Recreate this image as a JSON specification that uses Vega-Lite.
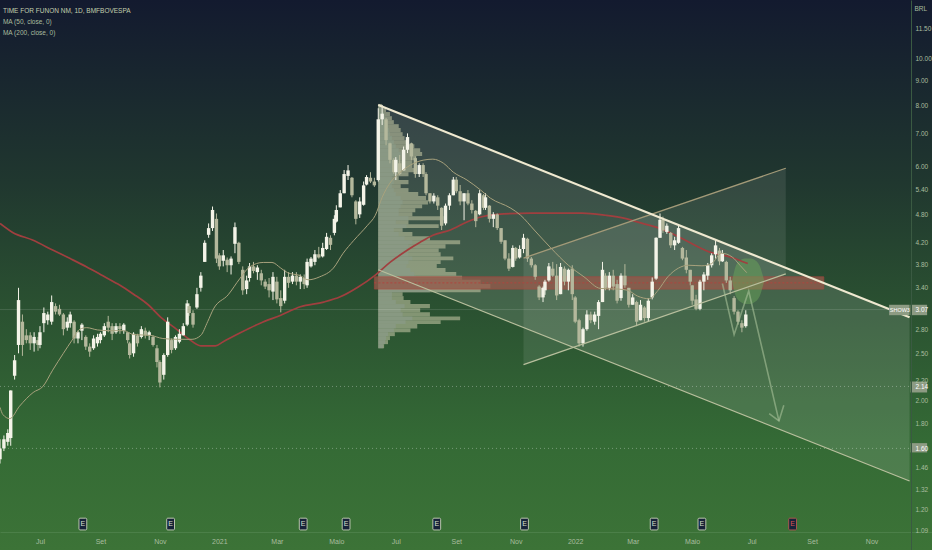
{"$schema":"https://vega.github.io/schema/vega-lite/v6.json","width":932,"height":550,"padding":0,"autosize":{"type":"none"},"background":"#22382f","config":{"view":{"stroke":null},"font":"Liberation Sans","axis":{"grid":false}},
"datasets":{
"ohlc":[
{"d":"2020-05-21","o":1.52,"h":1.67,"l":1.49,"c":1.60},{"d":"2020-05-25","o":1.60,"h":1.70,"l":1.58,"c":1.67},{"d":"2020-05-29","o":1.65,"h":1.75,"l":1.62,"c":1.72},
{"d":"2020-06-01","o":1.68,"h":2.10,"l":1.62,"c":2.10},{"d":"2020-06-05","o":2.25,"h":2.48,"l":2.21,"c":2.42},{"d":"2020-06-09","o":2.60,"h":3.40,"l":2.50,"c":3.21},{"d":"2020-06-13","o":2.90,"h":3.00,"l":2.47,"c":2.60},{"d":"2020-06-17","o":2.72,"h":2.80,"l":2.62,"c":2.66},{"d":"2020-06-21","o":2.72,"h":2.76,"l":2.54,"c":2.62},{"d":"2020-06-25","o":2.62,"h":2.76,"l":2.52,"c":2.70},{"d":"2020-06-29","o":2.66,"h":2.70,"l":2.53,"c":2.60},
{"d":"2020-07-01","o":2.60,"h":2.84,"l":2.56,"c":2.76},{"d":"2020-07-05","o":2.88,"h":3.10,"l":2.76,"c":3.02},{"d":"2020-07-09","o":2.92,"h":3.04,"l":2.86,"c":3.00},{"d":"2020-07-13","o":2.90,"h":3.28,"l":2.86,"c":3.18},{"d":"2020-07-17","o":3.12,"h":3.16,"l":3.00,"c":3.04},{"d":"2020-07-21","o":3.08,"h":3.14,"l":2.98,"c":3.00},{"d":"2020-07-25","o":3.00,"h":3.02,"l":2.72,"c":2.80},{"d":"2020-07-29","o":2.82,"h":2.96,"l":2.78,"c":2.90},
{"d":"2020-08-01","o":2.88,"h":3.04,"l":2.82,"c":3.00},{"d":"2020-08-05","o":2.90,"h":2.92,"l":2.62,"c":2.68},{"d":"2020-08-09","o":2.68,"h":2.78,"l":2.62,"c":2.76},{"d":"2020-08-13","o":2.78,"h":2.88,"l":2.66,"c":2.86},{"d":"2020-08-17","o":2.70,"h":2.72,"l":2.54,"c":2.58},{"d":"2020-08-21","o":2.58,"h":2.62,"l":2.46,"c":2.52},{"d":"2020-08-25","o":2.56,"h":2.72,"l":2.54,"c":2.68},{"d":"2020-08-29","o":2.62,"h":2.74,"l":2.58,"c":2.70},
{"d":"2020-09-01","o":2.66,"h":2.76,"l":2.62,"c":2.74},{"d":"2020-09-05","o":2.72,"h":2.88,"l":2.70,"c":2.84},{"d":"2020-09-09","o":2.90,"h":2.98,"l":2.76,"c":2.82},{"d":"2020-09-13","o":2.84,"h":2.88,"l":2.66,"c":2.74},{"d":"2020-09-17","o":2.76,"h":2.88,"l":2.74,"c":2.84},{"d":"2020-09-21","o":2.84,"h":2.88,"l":2.74,"c":2.80},{"d":"2020-09-25","o":2.78,"h":2.88,"l":2.74,"c":2.86},{"d":"2020-09-29","o":2.76,"h":2.76,"l":2.62,"c":2.66},
{"d":"2020-10-01","o":2.62,"h":2.64,"l":2.44,"c":2.48},{"d":"2020-10-05","o":2.50,"h":2.76,"l":2.46,"c":2.74},{"d":"2020-10-09","o":2.72,"h":2.74,"l":2.58,"c":2.62},{"d":"2020-10-13","o":2.70,"h":2.84,"l":2.68,"c":2.80},{"d":"2020-10-17","o":2.78,"h":2.82,"l":2.68,"c":2.72},{"d":"2020-10-21","o":2.72,"h":2.78,"l":2.66,"c":2.76},{"d":"2020-10-25","o":2.70,"h":2.72,"l":2.58,"c":2.60},{"d":"2020-10-29","o":2.56,"h":2.60,"l":2.34,"c":2.40},
{"d":"2020-11-01","o":2.40,"h":2.42,"l":2.13,"c":2.18},{"d":"2020-11-05","o":2.26,"h":2.50,"l":2.21,"c":2.48},{"d":"2020-11-09","o":2.48,"h":2.96,"l":2.46,"c":2.90},{"d":"2020-11-13","o":2.66,"h":2.68,"l":2.50,"c":2.54},{"d":"2020-11-17","o":2.56,"h":2.72,"l":2.54,"c":2.70},{"d":"2020-11-21","o":2.64,"h":2.80,"l":2.62,"c":2.74},{"d":"2020-11-25","o":2.72,"h":2.88,"l":2.72,"c":2.84},{"d":"2020-11-29","o":2.86,"h":3.21,"l":2.84,"c":3.16},
{"d":"2020-12-01","o":3.12,"h":3.16,"l":2.98,"c":3.02},{"d":"2020-12-05","o":3.02,"h":3.06,"l":2.82,"c":2.86},{"d":"2020-12-09","o":3.10,"h":3.40,"l":3.08,"c":3.30},{"d":"2020-12-13","o":3.40,"h":3.66,"l":3.34,"c":3.60},{"d":"2020-12-17","o":3.84,"h":4.25,"l":3.84,"c":4.20},{"d":"2020-12-21","o":4.36,"h":4.60,"l":4.30,"c":4.50},{"d":"2020-12-25","o":4.50,"h":4.98,"l":4.44,"c":4.90},{"d":"2020-12-29","o":4.70,"h":4.82,"l":3.82,"c":3.90},
{"d":"2021-01-01","o":3.96,"h":4.00,"l":3.70,"c":3.76},{"d":"2021-01-05","o":3.86,"h":4.06,"l":3.76,"c":3.96},{"d":"2021-01-09","o":3.88,"h":3.92,"l":3.66,"c":3.78},{"d":"2021-01-13","o":3.78,"h":3.94,"l":3.62,"c":3.90},{"d":"2021-01-17","o":4.18,"h":4.62,"l":4.00,"c":4.52},{"d":"2021-01-21","o":4.20,"h":4.22,"l":3.80,"c":3.84},{"d":"2021-01-25","o":3.70,"h":3.76,"l":3.29,"c":3.36},{"d":"2021-01-29","o":3.38,"h":3.60,"l":3.30,"c":3.52},
{"d":"2021-02-01","o":3.56,"h":3.82,"l":3.50,"c":3.76},{"d":"2021-02-05","o":3.76,"h":3.84,"l":3.64,"c":3.68},{"d":"2021-02-09","o":3.66,"h":3.78,"l":3.53,"c":3.74},{"d":"2021-02-13","o":3.64,"h":3.70,"l":3.44,"c":3.52},{"d":"2021-02-17","o":3.50,"h":3.54,"l":3.38,"c":3.42},{"d":"2021-02-21","o":3.46,"h":3.56,"l":3.25,"c":3.36},{"d":"2021-02-25","o":3.34,"h":3.66,"l":3.21,"c":3.58},
{"d":"2021-03-01","o":3.50,"h":3.58,"l":3.16,"c":3.22},{"d":"2021-03-05","o":3.24,"h":3.36,"l":3.03,"c":3.12},{"d":"2021-03-09","o":3.20,"h":3.70,"l":3.16,"c":3.58},{"d":"2021-03-13","o":3.58,"h":3.66,"l":3.40,"c":3.48},{"d":"2021-03-17","o":3.50,"h":3.66,"l":3.46,"c":3.60},{"d":"2021-03-21","o":3.60,"h":3.66,"l":3.44,"c":3.50},{"d":"2021-03-25","o":3.50,"h":3.62,"l":3.38,"c":3.58},{"d":"2021-03-29","o":3.56,"h":3.62,"l":3.38,"c":3.46},
{"d":"2021-04-01","o":3.44,"h":3.90,"l":3.40,"c":3.84},{"d":"2021-04-05","o":3.76,"h":3.93,"l":3.74,"c":3.90},{"d":"2021-04-09","o":3.84,"h":4.06,"l":3.78,"c":3.98},{"d":"2021-04-13","o":3.98,"h":4.12,"l":3.90,"c":3.92},{"d":"2021-04-17","o":3.94,"h":4.20,"l":3.92,"c":4.10},{"d":"2021-04-21","o":4.08,"h":4.40,"l":4.06,"c":4.32},{"d":"2021-04-25","o":4.30,"h":4.35,"l":4.06,"c":4.16},{"d":"2021-04-29","o":4.40,"h":4.78,"l":4.35,"c":4.70},
{"d":"2021-05-01","o":4.64,"h":5.01,"l":4.62,"c":4.90},{"d":"2021-05-05","o":4.96,"h":5.38,"l":4.96,"c":5.30},{"d":"2021-05-09","o":5.30,"h":5.91,"l":5.30,"c":5.80},{"d":"2021-05-13","o":5.75,"h":6.05,"l":5.64,"c":5.90},{"d":"2021-05-17","o":5.70,"h":5.72,"l":5.20,"c":5.25},{"d":"2021-05-21","o":5.10,"h":5.13,"l":4.58,"c":4.70},{"d":"2021-05-25","o":4.80,"h":5.20,"l":4.72,"c":5.10},{"d":"2021-05-29","o":5.02,"h":5.60,"l":5.00,"c":5.50},
{"d":"2021-06-01","o":5.52,"h":5.77,"l":5.50,"c":5.72},{"d":"2021-06-05","o":5.70,"h":5.85,"l":5.56,"c":5.60},{"d":"2021-06-09","o":5.60,"h":5.70,"l":5.46,"c":5.50},{"d":"2021-06-13","o":5.64,"h":7.90,"l":5.60,"c":7.50},{"d":"2021-06-17","o":7.50,"h":8.02,"l":7.30,"c":7.70},{"d":"2021-06-21","o":7.50,"h":7.55,"l":6.64,"c":6.80},{"d":"2021-06-25","o":6.70,"h":6.72,"l":6.10,"c":6.20},{"d":"2021-06-29","o":6.20,"h":6.25,"l":5.80,"c":5.85},
{"d":"2021-07-01","o":5.85,"h":6.28,"l":5.64,"c":6.20},{"d":"2021-07-05","o":6.10,"h":6.34,"l":5.77,"c":5.80},{"d":"2021-07-09","o":5.90,"h":6.60,"l":5.90,"c":6.50},{"d":"2021-07-13","o":6.50,"h":7.02,"l":6.40,"c":6.90},{"d":"2021-07-17","o":6.70,"h":6.72,"l":6.19,"c":6.30},{"d":"2021-07-21","o":6.25,"h":6.30,"l":5.70,"c":5.80},{"d":"2021-07-25","o":5.80,"h":6.10,"l":5.72,"c":6.05},{"d":"2021-07-29","o":6.05,"h":6.10,"l":5.72,"c":5.80},
{"d":"2021-08-01","o":5.80,"h":5.85,"l":5.25,"c":5.30},{"d":"2021-08-05","o":5.30,"h":5.30,"l":5.05,"c":5.10},{"d":"2021-08-09","o":5.10,"h":5.30,"l":5.05,"c":5.24},{"d":"2021-08-13","o":5.20,"h":5.25,"l":4.90,"c":5.00},{"d":"2021-08-17","o":4.95,"h":4.96,"l":4.46,"c":4.55},{"d":"2021-08-21","o":4.60,"h":5.05,"l":4.56,"c":5.00},{"d":"2021-08-25","o":5.00,"h":5.30,"l":4.90,"c":5.25},{"d":"2021-08-29","o":5.25,"h":5.72,"l":5.25,"c":5.65},
{"d":"2021-09-01","o":5.65,"h":5.72,"l":5.30,"c":5.35},{"d":"2021-09-05","o":5.35,"h":5.51,"l":5.01,"c":5.10},{"d":"2021-09-09","o":5.10,"h":5.30,"l":4.67,"c":5.30},{"d":"2021-09-13","o":5.30,"h":5.38,"l":5.01,"c":5.05},{"d":"2021-09-17","o":5.05,"h":5.13,"l":4.82,"c":4.90},{"d":"2021-09-21","o":4.88,"h":4.90,"l":4.52,"c":4.65},{"d":"2021-09-25","o":4.80,"h":5.38,"l":4.78,"c":5.30},{"d":"2021-09-29","o":5.25,"h":5.28,"l":4.90,"c":4.95},
{"d":"2021-10-01","o":4.95,"h":5.30,"l":4.90,"c":5.20},{"d":"2021-10-05","o":5.00,"h":5.01,"l":4.62,"c":4.70},{"d":"2021-10-09","o":4.70,"h":4.85,"l":4.52,"c":4.80},{"d":"2021-10-13","o":4.80,"h":4.82,"l":4.46,"c":4.50},{"d":"2021-10-17","o":4.50,"h":4.50,"l":4.18,"c":4.22},{"d":"2021-10-21","o":4.25,"h":4.25,"l":3.87,"c":3.90},{"d":"2021-10-25","o":3.90,"h":4.00,"l":3.68,"c":3.72},{"d":"2021-10-29","o":3.75,"h":4.15,"l":3.74,"c":4.10},
{"d":"2021-11-01","o":4.10,"h":4.12,"l":3.86,"c":3.90},{"d":"2021-11-05","o":3.92,"h":4.15,"l":3.90,"c":4.08},{"d":"2021-11-09","o":4.08,"h":4.38,"l":4.00,"c":4.30},{"d":"2021-11-13","o":4.28,"h":4.30,"l":3.84,"c":3.90},{"d":"2021-11-17","o":3.90,"h":3.93,"l":3.74,"c":3.78},{"d":"2021-11-21","o":3.78,"h":3.80,"l":3.53,"c":3.58},{"d":"2021-11-25","o":3.42,"h":3.44,"l":3.21,"c":3.25},{"d":"2021-11-29","o":3.25,"h":3.42,"l":3.18,"c":3.40},
{"d":"2021-12-01","o":3.36,"h":3.53,"l":3.29,"c":3.50},{"d":"2021-12-05","o":3.52,"h":3.82,"l":3.50,"c":3.76},{"d":"2021-12-09","o":3.72,"h":3.84,"l":3.58,"c":3.60},{"d":"2021-12-13","o":3.60,"h":3.80,"l":3.21,"c":3.28},{"d":"2021-12-17","o":3.30,"h":3.82,"l":3.30,"c":3.75},{"d":"2021-12-21","o":3.72,"h":3.76,"l":3.44,"c":3.50},{"d":"2021-12-25","o":3.50,"h":3.72,"l":3.36,"c":3.70},{"d":"2021-12-29","o":3.72,"h":3.78,"l":3.21,"c":3.30},
{"d":"2022-01-01","o":3.25,"h":3.27,"l":2.88,"c":2.90},{"d":"2022-01-05","o":2.92,"h":2.94,"l":2.58,"c":2.62},{"d":"2022-01-09","o":2.62,"h":2.82,"l":2.58,"c":2.80},{"d":"2022-01-13","o":2.80,"h":3.06,"l":2.78,"c":3.00},{"d":"2022-01-17","o":3.00,"h":3.04,"l":2.88,"c":2.92},{"d":"2022-01-21","o":2.90,"h":3.04,"l":2.86,"c":3.00},{"d":"2022-01-25","o":2.98,"h":3.21,"l":2.80,"c":3.18},{"d":"2022-01-29","o":3.18,"h":3.84,"l":3.18,"c":3.70},
{"d":"2022-02-01","o":3.60,"h":3.64,"l":3.36,"c":3.40},{"d":"2022-02-05","o":3.40,"h":3.66,"l":3.36,"c":3.60},{"d":"2022-02-09","o":3.60,"h":3.70,"l":3.36,"c":3.42},{"d":"2022-02-13","o":3.46,"h":3.53,"l":3.16,"c":3.20},{"d":"2022-02-17","o":3.24,"h":3.64,"l":3.20,"c":3.60},{"d":"2022-02-21","o":3.60,"h":3.80,"l":3.40,"c":3.44},{"d":"2022-02-25","o":3.40,"h":3.40,"l":3.10,"c":3.14},
{"d":"2022-03-01","o":3.14,"h":3.30,"l":3.14,"c":3.25},{"d":"2022-03-05","o":3.18,"h":3.20,"l":2.84,"c":2.90},{"d":"2022-03-09","o":2.92,"h":3.21,"l":2.92,"c":3.14},{"d":"2022-03-13","o":3.10,"h":3.12,"l":2.90,"c":2.95},{"d":"2022-03-17","o":2.95,"h":3.24,"l":2.90,"c":3.20},{"d":"2022-03-21","o":3.25,"h":3.57,"l":3.22,"c":3.50},{"d":"2022-03-25","o":3.55,"h":4.31,"l":3.53,"c":4.30},{"d":"2022-03-29","o":4.30,"h":4.82,"l":4.30,"c":4.68},
{"d":"2022-04-01","o":4.68,"h":4.75,"l":4.40,"c":4.45},{"d":"2022-04-05","o":4.42,"h":4.60,"l":4.38,"c":4.55},{"d":"2022-04-09","o":4.40,"h":4.42,"l":4.10,"c":4.15},{"d":"2022-04-13","o":4.15,"h":4.32,"l":4.06,"c":4.25},{"d":"2022-04-17","o":4.20,"h":4.56,"l":4.18,"c":4.50},{"d":"2022-04-21","o":4.10,"h":4.12,"l":3.87,"c":3.90},{"d":"2022-04-25","o":3.92,"h":4.06,"l":3.64,"c":3.70},{"d":"2022-04-29","o":3.70,"h":3.70,"l":3.44,"c":3.50},
{"d":"2022-05-01","o":3.44,"h":3.44,"l":3.14,"c":3.20},{"d":"2022-05-05","o":3.22,"h":3.29,"l":3.06,"c":3.08},{"d":"2022-05-09","o":3.08,"h":3.53,"l":3.06,"c":3.50},{"d":"2022-05-13","o":3.50,"h":3.66,"l":3.36,"c":3.62},{"d":"2022-05-17","o":3.60,"h":3.82,"l":3.53,"c":3.78},{"d":"2022-05-21","o":3.78,"h":4.00,"l":3.74,"c":3.96},{"d":"2022-05-25","o":3.98,"h":4.25,"l":3.90,"c":4.15},{"d":"2022-05-29","o":4.05,"h":4.10,"l":3.78,"c":3.85},
{"d":"2022-06-01","o":3.85,"h":4.06,"l":3.84,"c":4.00},{"d":"2022-06-05","o":3.84,"h":3.86,"l":3.48,"c":3.52},{"d":"2022-06-09","o":3.52,"h":3.58,"l":3.30,"c":3.36},{"d":"2022-06-13","o":3.24,"h":3.27,"l":3.00,"c":3.04},{"d":"2022-06-17","o":3.04,"h":3.06,"l":2.86,"c":2.90},{"d":"2022-06-21","o":2.88,"h":2.92,"l":2.76,"c":2.82},{"d":"2022-06-25","o":2.84,"h":3.06,"l":2.82,"c":3.00}
],
"ma50":[{"d":"2020-05-21","p":1.94},{"d":"2020-05-24","p":1.875},{"d":"2020-05-31","p":1.84},{"d":"2020-06-10","p":1.95},{"d":"2020-06-24","p":2.08},{"d":"2020-07-04","p":2.14},{"d":"2020-07-14","p":2.31},{"d":"2020-07-25","p":2.50},{"d":"2020-08-03","p":2.66},{"d":"2020-08-11","p":2.80},{"d":"2020-08-18","p":2.82},{"d":"2020-08-29","p":2.79},{"d":"2020-09-11","p":2.78},{"d":"2020-09-25","p":2.78},{"d":"2020-10-05","p":2.73},{"d":"2020-10-22","p":2.72},{"d":"2020-11-04","p":2.68},{"d":"2020-11-19","p":2.67},{"d":"2020-12-04","p":2.67},{"d":"2020-12-13","p":2.72},{"d":"2020-12-20","p":2.90},{"d":"2020-12-26","p":3.08},{"d":"2021-01-10","p":3.29},{"d":"2021-01-22","p":3.55},{"d":"2021-02-01","p":3.75},{"d":"2021-02-15","p":3.83},{"d":"2021-02-24","p":3.83},{"d":"2021-03-05","p":3.73},{"d":"2021-03-12","p":3.65},{"d":"2021-03-25","p":3.60},{"d":"2021-04-02","p":3.53},{"d":"2021-04-14","p":3.58},{"d":"2021-04-28","p":3.73},{"d":"2021-05-08","p":4.00},{"d":"2021-05-19","p":4.25},{"d":"2021-06-02","p":4.56},{"d":"2021-06-10","p":4.78},{"d":"2021-06-17","p":5.20},{"d":"2021-06-25","p":5.56},{"d":"2021-07-05","p":5.83},{"d":"2021-07-16","p":6.05},{"d":"2021-07-29","p":6.19},{"d":"2021-08-08","p":6.22},{"d":"2021-08-19","p":6.10},{"d":"2021-08-29","p":5.85},{"d":"2021-09-12","p":5.64},{"d":"2021-09-26","p":5.38},{"d":"2021-10-06","p":5.18},{"d":"2021-10-27","p":4.94},{"d":"2021-11-06","p":4.78},{"d":"2021-11-20","p":4.46},{"d":"2021-12-07","p":4.10},{"d":"2021-12-25","p":3.78},{"d":"2022-01-10","p":3.58},{"d":"2022-01-27","p":3.39},{"d":"2022-02-14","p":3.38},{"d":"2022-02-24","p":3.36},{"d":"2022-03-06","p":3.27},{"d":"2022-03-18","p":3.23},{"d":"2022-03-27","p":3.36},{"d":"2022-04-06","p":3.58},{"d":"2022-04-17","p":3.73},{"d":"2022-04-27","p":3.78},{"d":"2022-05-11","p":3.77},{"d":"2022-05-21","p":3.81},{"d":"2022-05-31","p":4.00},{"d":"2022-06-11","p":3.93},{"d":"2022-06-19","p":3.78},{"d":"2022-06-26","p":3.65}],
"ma200":[{"d":"2020-05-21","p":4.60},{"d":"2020-06-03","p":4.41},{"d":"2020-06-24","p":4.25},{"d":"2020-07-14","p":4.06},{"d":"2020-08-01","p":3.90},{"d":"2020-08-18","p":3.75},{"d":"2020-09-01","p":3.62},{"d":"2020-09-19","p":3.46},{"d":"2020-10-05","p":3.30},{"d":"2020-10-20","p":3.14},{"d":"2020-11-02","p":2.96},{"d":"2020-11-16","p":2.82},{"d":"2020-11-30","p":2.68},{"d":"2020-12-13","p":2.59},{"d":"2020-12-28","p":2.59},{"d":"2021-01-05","p":2.64},{"d":"2021-01-22","p":2.75},{"d":"2021-02-12","p":2.88},{"d":"2021-03-05","p":2.99},{"d":"2021-03-25","p":3.11},{"d":"2021-04-18","p":3.18},{"d":"2021-05-05","p":3.26},{"d":"2021-05-23","p":3.41},{"d":"2021-06-10","p":3.61},{"d":"2021-06-25","p":3.83},{"d":"2021-07-13","p":4.06},{"d":"2021-07-26","p":4.21},{"d":"2021-08-08","p":4.35},{"d":"2021-08-26","p":4.46},{"d":"2021-09-12","p":4.63},{"d":"2021-09-26","p":4.74},{"d":"2021-10-13","p":4.80},{"d":"2021-11-17","p":4.83},{"d":"2022-01-08","p":4.83},{"d":"2022-02-01","p":4.78},{"d":"2022-02-21","p":4.71},{"d":"2022-03-11","p":4.60},{"d":"2022-03-28","p":4.50},{"d":"2022-04-14","p":4.35},{"d":"2022-04-28","p":4.21},{"d":"2022-05-19","p":4.02},{"d":"2022-06-09","p":3.93},{"d":"2022-06-27","p":3.81}],
"profile":[{"s":"2021-06-13","p":8.06,"q":7.90,"a":"2021-06-15","b":"2021-06-17"},{"s":"2021-06-13","p":7.90,"q":7.76,"a":"2021-06-17","b":"2021-06-21"},{"s":"2021-06-13","p":7.76,"q":7.61,"a":"2021-06-19","b":"2021-06-25"},{"s":"2021-06-13","p":7.61,"q":7.47,"a":"2021-06-20","b":"2021-06-27"},{"s":"2021-06-13","p":7.47,"q":7.33,"a":"2021-06-21","b":"2021-06-29"},{"s":"2021-06-13","p":7.33,"q":7.20,"a":"2021-06-23","b":"2021-07-04"},{"s":"2021-06-13","p":7.20,"q":7.06,"a":"2021-06-24","b":"2021-07-06"},{"s":"2021-06-13","p":7.06,"q":6.93,"a":"2021-06-25","b":"2021-07-08"},{"s":"2021-06-13","p":6.93,"q":6.80,"a":"2021-06-27","b":"2021-07-10"},{"s":"2021-06-13","p":6.80,"q":6.67,"a":"2021-06-29","b":"2021-07-14"},{"s":"2021-06-13","p":6.67,"q":6.55,"a":"2021-07-01","b":"2021-07-20"},{"s":"2021-06-13","p":6.55,"q":6.43,"a":"2021-07-04","b":"2021-07-26"},{"s":"2021-06-13","p":6.43,"q":6.31,"a":"2021-07-06","b":"2021-07-28"},{"s":"2021-06-13","p":6.31,"q":6.19,"a":"2021-07-04","b":"2021-07-22"},{"s":"2021-06-13","p":6.19,"q":6.08,"a":"2021-07-01","b":"2021-07-18"},{"s":"2021-06-13","p":6.08,"q":5.97,"a":"2021-07-01","b":"2021-07-18"},{"s":"2021-06-13","p":5.97,"q":5.85,"a":"2021-07-01","b":"2021-07-20"},{"s":"2021-06-13","p":5.85,"q":5.74,"a":"2021-06-29","b":"2021-07-14"},{"s":"2021-06-13","p":5.74,"q":5.64,"a":"2021-06-27","b":"2021-07-04"},{"s":"2021-06-13","p":5.64,"q":5.53,"a":"2021-06-29","b":"2021-07-14"},{"s":"2021-06-13","p":5.53,"q":5.43,"a":"2021-06-27","b":"2021-07-06"},{"s":"2021-06-13","p":5.43,"q":5.33,"a":"2021-06-29","b":"2021-07-14"},{"s":"2021-06-13","p":5.33,"q":5.23,"a":"2021-07-01","b":"2021-07-24"},{"s":"2021-06-13","p":5.23,"q":5.13,"a":"2021-07-06","b":"2021-08-01"},{"s":"2021-06-13","p":5.13,"q":5.03,"a":"2021-07-08","b":"2021-08-03"},{"s":"2021-06-13","p":5.03,"q":4.94,"a":"2021-07-06","b":"2021-07-28"},{"s":"2021-06-13","p":4.94,"q":4.85,"a":"2021-07-04","b":"2021-07-21"},{"s":"2021-06-13","p":4.85,"q":4.76,"a":"2021-07-04","b":"2021-07-18"},{"s":"2021-06-13","p":4.76,"q":4.67,"a":"2021-07-14","b":"2021-08-19"},{"s":"2021-06-13","p":4.67,"q":4.58,"a":"2021-07-01","b":"2021-07-14"},{"s":"2021-06-13","p":4.58,"q":4.50,"a":"2021-07-12","b":"2021-08-14"},{"s":"2021-06-13","p":4.50,"q":4.42,"a":"2021-06-29","b":"2021-07-08"},{"s":"2021-06-13","p":4.42,"q":4.33,"a":"2021-07-04","b":"2021-07-18"},{"s":"2021-06-13","p":4.33,"q":4.25,"a":"2021-07-10","b":"2021-08-05"},{"s":"2021-06-13","p":4.25,"q":4.17,"a":"2021-07-18","b":"2021-09-05"},{"s":"2021-06-13","p":4.17,"q":4.09,"a":"2021-07-14","b":"2021-08-21"},{"s":"2021-06-13","p":4.09,"q":4.02,"a":"2021-07-12","b":"2021-08-14"},{"s":"2021-06-13","p":4.02,"q":3.94,"a":"2021-07-14","b":"2021-08-16"},{"s":"2021-06-13","p":3.94,"q":3.87,"a":"2021-07-18","b":"2021-08-29"},{"s":"2021-06-13","p":3.87,"q":3.80,"a":"2021-07-14","b":"2021-08-16"},{"s":"2021-06-13","p":3.80,"q":3.73,"a":"2021-07-12","b":"2021-08-12"},{"s":"2021-06-13","p":3.73,"q":3.66,"a":"2021-07-16","b":"2021-08-21"},{"s":"2021-06-13","p":3.66,"q":3.60,"a":"2021-07-20","b":"2021-09-01"},{"s":"2021-06-13","p":3.60,"q":3.53,"a":"2021-07-22","b":"2021-09-07"},{"s":"2021-06-13","p":3.53,"q":3.46,"a":"2021-08-16","b":"2021-09-26"},{"s":"2021-06-13","p":3.46,"q":3.39,"a":"2021-08-16","b":"2021-10-06"},{"s":"2021-06-13","p":3.39,"q":3.33,"a":"2021-08-05","b":"2021-09-26"},{"s":"2021-06-13","p":3.33,"q":3.27,"a":"2021-06-27","b":"2021-07-08"},{"s":"2021-06-13","p":3.27,"q":3.21,"a":"2021-06-27","b":"2021-07-09"},{"s":"2021-06-13","p":3.21,"q":3.15,"a":"2021-07-01","b":"2021-07-16"},{"s":"2021-06-13","p":3.15,"q":3.09,"a":"2021-07-10","b":"2021-08-05"},{"s":"2021-06-13","p":3.09,"q":3.03,"a":"2021-07-06","b":"2021-07-26"},{"s":"2021-06-13","p":3.03,"q":2.97,"a":"2021-07-08","b":"2021-08-05"},{"s":"2021-06-13","p":2.97,"q":2.92,"a":"2021-07-18","b":"2021-09-05"},{"s":"2021-06-13","p":2.92,"q":2.87,"a":"2021-07-11","b":"2021-08-16"},{"s":"2021-06-13","p":2.87,"q":2.81,"a":"2021-07-01","b":"2021-07-23"},{"s":"2021-06-13","p":2.81,"q":2.76,"a":"2021-06-29","b":"2021-07-16"},{"s":"2021-06-13","p":2.76,"q":2.71,"a":"2021-06-23","b":"2021-06-30"},{"s":"2021-06-13","p":2.71,"q":2.66,"a":"2021-06-21","b":"2021-06-25"},{"s":"2021-06-13","p":2.66,"q":2.61,"a":"2021-06-20","b":"2021-06-23"},{"s":"2021-06-13","p":2.61,"q":2.56,"a":"2021-06-18","b":"2021-06-19"}]
},
"encoding":{"x":{"field":"d","type":"temporal"}},
"layer":[
{"data":{"values":[{"x0":"2020-05-21","x1":"2023-01-02","p0":0.993,"p1":13.13}]},"mark":{"type":"rect","fill":{"gradient":"linear","x1":0,"y1":0,"x2":0,"y2":1,"stops":[{"offset":0,"color":"#131a2f"},{"offset":0.33,"color":"#20372f"},{"offset":0.55,"color":"#2a5031"},{"offset":0.8,"color":"#346a35"},{"offset":1,"color":"#3c7337"}]}},
"encoding":{
"x":{"field":"x0","type":"temporal","scale":{"type":"time","domain":[{"year":2020,"month":5,"date":21},{"year":2023,"month":1,"date":2}],"nice":false},
"axis":{"title":null,"orient":"bottom","offset":-18,"zindex":1,"ticks":false,"grid":false,"domainColor":"#4b7f48","labelColor":"#a9bd9f","labelFont":"Liberation Sans","labelFontSize":7,"labelPadding":5,"labelOverlap":false,"labelFlush":false,"labelBound":false,
"values":[{"year":2020,"month":7,"date":1},{"year":2020,"month":9,"date":1},{"year":2020,"month":11,"date":1},{"year":2021,"month":1,"date":1},{"year":2021,"month":3,"date":1},{"year":2021,"month":5,"date":1},{"year":2021,"month":7,"date":1},{"year":2021,"month":9,"date":1},{"year":2021,"month":11,"date":1},{"year":2022,"month":1,"date":1},{"year":2022,"month":3,"date":1},{"year":2022,"month":5,"date":1},{"year":2022,"month":7,"date":1},{"year":2022,"month":9,"date":1},{"year":2022,"month":11,"date":1}],
"labelExpr":"month(datum.value)==0 ? timeFormat(datum.value,'%Y') : ['Jan','Fev','Mar','Abr','Maio','Jun','Jul','Ago','Set','Out','Nov','Dez'][month(datum.value)]"}},
"x2":{"field":"x1"},
"y":{"field":"p0","type":"quantitative","scale":{"type":"log","domain":[0.993,13.13],"nice":false,"zero":false},
"axis":{"title":null,"orient":"right","offset":-21,"zindex":1,"ticks":false,"grid":false,"domainColor":"#3a5a42","labelFont":"Liberation Sans","labelFontSize":6.5,"labelPadding":4,"labelOverlap":false,"labelFlush":false,"labelBound":false,"format":".2f",
"labelColor":{"condition":{"test":"datum.value==2.14||datum.value==1.6||datum.value==3.07","value":"#ffffff"},"value":"#a9bd9f"},
"values":[1.09,1.2,1.32,1.46,1.6,1.8,2,2.14,2.2,2.5,2.8,3.07,3.4,3.8,4.2,4.8,5.4,6,7,8,9,10,11.5]}},
"y2":{"field":"p1"}}},

{"data":{"values":[{"d":"2021-11-09","p":3.91,"q":2.37},{"d":"2022-08-05","p":5.96,"q":3.63}]},"mark":{"type":"area","color":"#ffffff","opacity":0.09},"encoding":{"y":{"field":"p","type":"quantitative"},"y2":{"field":"q"}}},
{"data":{"values":[{"d":"2021-06-13","p":8.02,"q":3.70},{"d":"2022-12-10","p":2.96,"q":1.373}]},"mark":{"type":"area","color":"#ffffff","opacity":0.12},"encoding":{"y":{"field":"p","type":"quantitative"},"y2":{"field":"q"}}},

{"data":{"name":"profile"},"mark":{"type":"rect","color":"#b9bf9c","opacity":0.62},"encoding":{"x":{"field":"s","type":"temporal"},"x2":{"field":"b"},"y":{"field":"p","type":"quantitative"},"y2":{"field":"q"}}},
{"data":{"name":"profile"},"mark":{"type":"rect","color":"#8a9a86","opacity":0.8},"encoding":{"x":{"field":"s","type":"temporal"},"x2":{"field":"a"},"y":{"field":"p","type":"quantitative"},"y2":{"field":"q"}}},

{"data":{"values":[{"s":"2021-06-09","e":"2022-09-13","p":3.58,"q":3.38}]},"mark":{"type":"rect","color":"#94594a","opacity":0.78,"stroke":"#b0453f","strokeWidth":0.8},"encoding":{"x":{"field":"s","type":"temporal"},"x2":{"field":"e"},"y":{"field":"p","type":"quantitative"},"y2":{"field":"q"}}},
{"data":{"values":[{"d":"2021-06-09","p":3.48},{"d":"2022-09-13","p":3.48}]},"mark":{"type":"line","color":"#b0453f","strokeWidth":1,"strokeDash":[2,2]},"encoding":{"y":{"field":"p","type":"quantitative"}}},

{"data":{"values":[{"d":"2022-06-11","p":3.51,"q":3.51},{"d":"2022-06-15","p":3.78,"q":3.26},{"d":"2022-06-21","p":3.89,"q":3.17},{"d":"2022-06-27","p":3.90,"q":3.15},{"d":"2022-07-03","p":3.89,"q":3.17},{"d":"2022-07-09","p":3.78,"q":3.26},{"d":"2022-07-14","p":3.51,"q":3.51}]},"mark":{"type":"area","color":"#6aa35a","opacity":0.5,"interpolate":"cardinal"},"encoding":{"y":{"field":"p","type":"quantitative"},"y2":{"field":"q"}}},

{"data":{"values":[{"d":"2020-05-21","p":3.07},{"d":"2022-11-19","p":3.07}]},"mark":{"type":"line","color":"#ffffff","opacity":0.13,"strokeWidth":1},"encoding":{"y":{"field":"p","type":"quantitative"}}},
{"data":{"values":[{"p":2.14,"a":"2020-05-21","b":"2022-12-11"},{"p":1.6,"a":"2020-05-21","b":"2022-12-11"}]},"mark":{"type":"rule","color":"#ffffff","opacity":0.32,"strokeWidth":1,"strokeDash":[1,3]},"encoding":{"x":{"field":"a","type":"temporal"},"x2":{"field":"b"},"y":{"field":"p","type":"quantitative"}}},

{"data":{"name":"ma200"},"mark":{"type":"line","color":"#a03f3f","strokeWidth":1.7,"interpolate":"monotone"},"encoding":{"y":{"field":"p","type":"quantitative"}}},

{"data":{"name":"ohlc"},"mark":{"type":"rule","strokeWidth":1},"encoding":{"y":{"field":"l","type":"quantitative"},"y2":{"field":"h"},"color":{"condition":{"test":"datum.c>=datum.o","value":"#f4f4e8"},"value":"#b4b89c"}}},
{"data":{"name":"ohlc"},"mark":{"type":"rule","strokeWidth":3.4},"encoding":{"y":{"field":"o","type":"quantitative"},"y2":{"field":"c"},"color":{"condition":{"test":"datum.c>=datum.o","value":"#f4f4e8"},"value":"#b4b89c"}}},

{"data":{"name":"ma50"},"mark":{"type":"line","color":"#a8a27d","strokeWidth":1,"interpolate":"monotone"},"encoding":{"y":{"field":"p","type":"quantitative"}}},

{"data":{"values":[{"d":"2021-11-09","p":3.91},{"d":"2022-08-05","p":5.96}]},"mark":{"type":"line","color":"#a39a78","strokeWidth":1.3},"encoding":{"y":{"field":"p","type":"quantitative"}}},
{"data":{"values":[{"d":"2021-11-09","p":2.37},{"d":"2022-08-05","p":3.63}]},"mark":{"type":"line","color":"#b8bf9d","strokeWidth":1.3},"encoding":{"y":{"field":"p","type":"quantitative"}}},
{"data":{"values":[{"d":"2021-06-13","p":3.70},{"d":"2022-12-10","p":1.373}]},"mark":{"type":"line","color":"#b8bf9d","strokeWidth":1.2},"encoding":{"y":{"field":"p","type":"quantitative"}}},
{"data":{"values":[{"d":"2021-06-13","p":8.02},{"d":"2022-12-10","p":2.96}]},"mark":{"type":"line","color":"#efe9d0","strokeWidth":2.2},"encoding":{"y":{"field":"p","type":"quantitative"}}},

{"data":{"values":[{"g":"path","d":"2022-06-01","p":3.47},{"g":"path","d":"2022-06-13","p":2.73},{"g":"path","d":"2022-06-28","p":3.35},{"g":"path","d":"2022-07-29","p":1.82},{"g":"head","d":"2022-07-19","p":1.884},{"g":"head","d":"2022-07-29","p":1.82},{"g":"head","d":"2022-08-03","p":1.96}]},"mark":{"type":"line","color":"#a9c29a","opacity":0.6,"strokeWidth":1.6},"encoding":{"y":{"field":"p","type":"quantitative"},"detail":{"field":"g"}}},

{"data":{"values":[{"a":"2022-11-19","b":"2022-12-10","p":3.14,"q":2.99},{"a":"2022-12-11","b":"2022-12-28","p":3.14,"q":2.99},{"a":"2022-12-11","b":"2022-12-28","p":2.19,"q":2.08},{"a":"2022-12-11","b":"2022-12-28","p":1.64,"q":1.57}]},"mark":{"type":"rect","color":"#8d9b83"},"encoding":{"x":{"field":"a","type":"temporal"},"x2":{"field":"b"},"y":{"field":"p","type":"quantitative"},"y2":{"field":"q"}}},

{"data":{"values":[{"a":"2020-08-10","b":"2020-08-18","k":"n"},{"a":"2020-11-08","b":"2020-11-16","k":"n"},{"a":"2021-03-24","b":"2021-04-01","k":"n"},{"a":"2021-05-07","b":"2021-05-15","k":"n"},{"a":"2021-08-08","b":"2021-08-16","k":"n"},{"a":"2021-11-06","b":"2021-11-14","k":"n"},{"a":"2022-03-19","b":"2022-03-27","k":"n"},{"a":"2022-05-07","b":"2022-05-15","k":"n"},{"a":"2022-08-08","b":"2022-08-16","k":"r"}]},"mark":{"type":"rect","fill":"#17233a","strokeWidth":1,"cornerRadius":1},"encoding":{"x":{"field":"a","type":"temporal"},"x2":{"field":"b"},"y":{"datum":1.153},"y2":{"datum":1.091},"stroke":{"condition":{"test":"datum.k=='r'","value":"#a8574f"},"value":"#b9c4ad"}}},
{"data":{"values":[{"d":"2020-08-14","k":"n"},{"d":"2020-11-12","k":"n"},{"d":"2021-03-28","k":"n"},{"d":"2021-05-11","k":"n"},{"d":"2021-08-12","k":"n"},{"d":"2021-11-10","k":"n"},{"d":"2022-03-23","k":"n"},{"d":"2022-05-11","k":"n"},{"d":"2022-08-12","k":"r"}]},"mark":{"type":"text","text":"E","fontSize":7,"font":"Liberation Sans","baseline":"middle","align":"center"},"encoding":{"y":{"datum":1.121},"color":{"condition":{"test":"datum.k=='r'","value":"#d9534f"},"value":"#d8e0cc"}}},

{"data":{"values":[{"d":"2022-11-30","p":3.065,"t":"SHOW3"}]},"mark":{"type":"text","fontSize":5.5,"font":"Liberation Sans","color":"#ffffff","baseline":"middle","align":"center"},"encoding":{"y":{"field":"p","type":"quantitative"},"text":{"field":"t"}}},
{"data":{"values":[{"d":"2020-05-24","p":12.47,"t":"TIME FOR FUNON NM, 1D, BMFBOVESPA","k":"a"},{"d":"2020-05-24","p":11.84,"t":"MA (50, close, 0)","k":"b"},{"d":"2020-05-24","p":11.24,"t":"MA (200, close, 0)","k":"b"},{"d":"2022-12-15","p":12.59,"t":"BRL","k":"b"}]},"mark":{"type":"text","fontSize":6.5,"font":"Liberation Sans","baseline":"middle","align":"left"},"encoding":{"y":{"field":"p","type":"quantitative"},"text":{"field":"t"},"color":{"condition":{"test":"datum.k=='a'","value":"#c3cfae"},"value":"#a9bd9f"}}}
]}
